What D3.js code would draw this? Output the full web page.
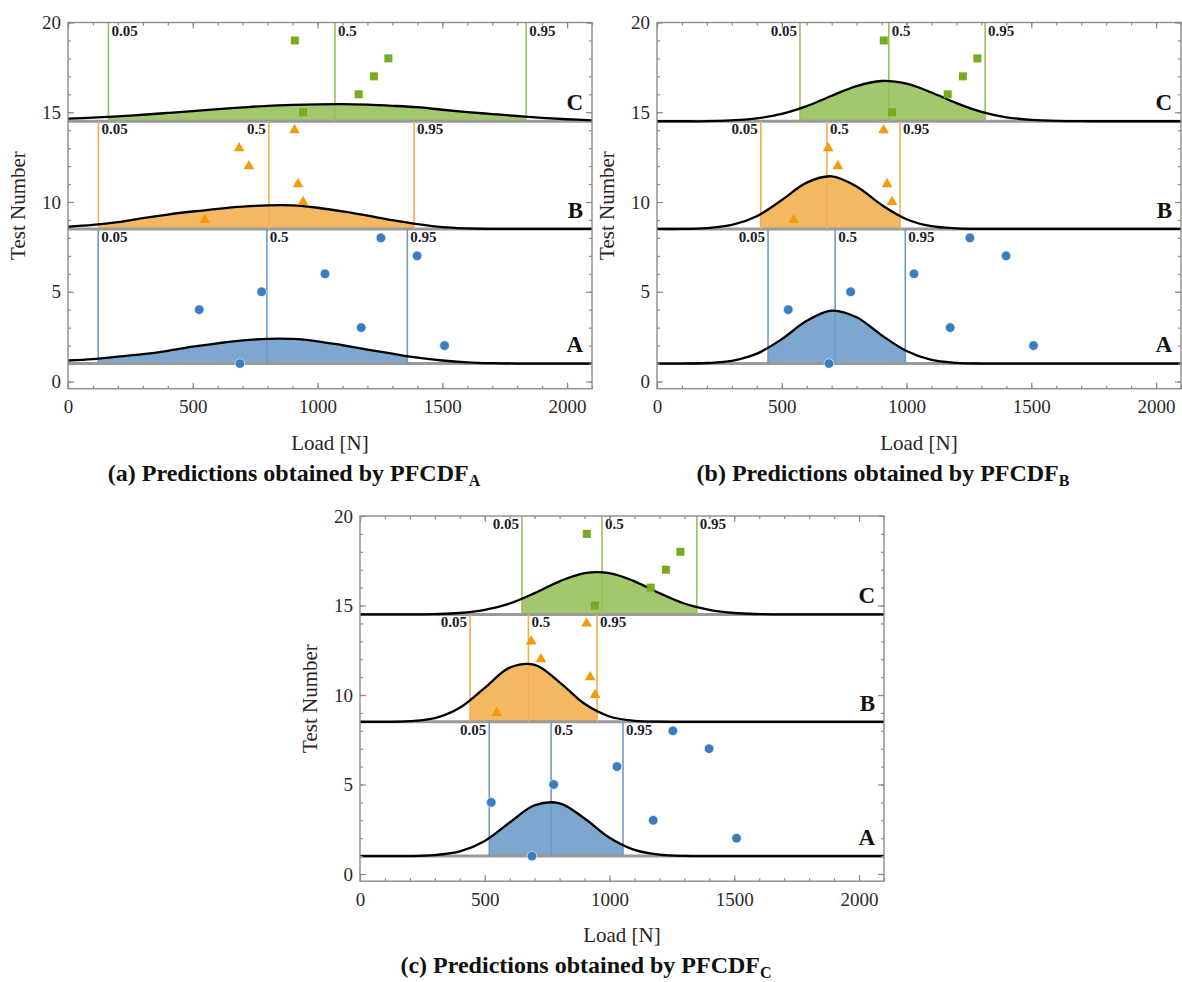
<!DOCTYPE html>
<html>
<head>
<meta charset="utf-8">
<script src="https://cdn.jsdelivr.net/npm/d3@7"></script>
<style>
  body { margin: 0; background: #fff; }
  svg { display: block; font-family: "Liberation Serif", "Times New Roman", serif; }
</style>
</head>
<body>
<div id="chart"></div>
<script>
// load grid (N) on which the density curves were read
const loadGrid = [0, 100, 200, 300, 400, 500, 600, 700, 800, 900, 1000,
  1100, 1200, 1300, 1400, 1500, 1600, 1700, 1800, 1900, 2000, 2100];

// bands: A, B, C (baseline and top on the Test Number axis)
const bandNames = ["A", "B", "C"];
const bandBase = [1, 8.5, 14.5];
const bandTop = [8.5, 14.5, 20];
const quantNames = ["0.05", "0.5", "0.95"];

// density height above the band baseline, read at each loadGrid value
const curvesPFCDFA = [
  [.17, .25, .38, .52, .71, .94, 1.13, 1.29, 1.38, 1.37, 1.24, 1.02, .78, .55, .33, .17, .07, .02, 0, 0, 0, 0],
  [.12, .22, .38, .60, .80, .97, 1.12, 1.24, 1.31, 1.31, 1.18, .98, .74, .49, .27, .10, .03, 0, 0, 0, 0, 0],
  [.15, .20, .27, .36, .46, .56, .67, .77, .86, .91, .94, .95, .92, .86, .78, .64, .51, .40, .29, .19, .11, .05]
];
const curvesPFCDFB = [
  [0, 0, .03, .15, .55, 1.36, 2.38, 2.95, 2.58, 1.58, .70, .20, .04, 0, 0, 0, 0, 0, 0, 0, 0, 0],
  [0, 0, .05, .22, .71, 1.61, 2.58, 2.93, 2.36, 1.34, .54, .15, .03, 0, 0, 0, 0, 0, 0, 0, 0, 0],
  [0, 0, 0, .05, .16, .41, .84, 1.42, 1.96, 2.24, 2.09, 1.60, 1.01, .52, .22, .08, .02, 0, 0, 0, 0, 0]
];
const curvesPFCDFC = [
  [0, 0, 0, .06, .26, .85, 1.88, 2.84, 2.95, 2.10, 1.03, .35, .08, .01, 0, 0, 0, 0, 0, 0, 0, 0],
  [0, 0, .04, .21, .79, 1.90, 3.03, 3.18, 2.21, 1.01, .30, .06, .01, 0, 0, 0, 0, 0, 0, 0, 0, 0],
  [0, 0, 0, .02, .08, .26, .61, 1.19, 1.85, 2.31, 2.31, 1.85, 1.19, .61, .26, .08, .02, 0, 0, 0, 0, 0]
];

// 0.05 / 0.5 / 0.95 quantiles (N) per band
const quantPFCDFA = [[121, 797, 1360], [122, 805, 1387], [162, 1070, 1836]];
const quantPFCDFB = [[445, 714, 995], [416, 681, 974], [573, 929, 1315]];
const quantPFCDFC = [[518, 766, 1054], [441, 675, 950], [649, 970, 1350]];

// which side of the quantile line its label sits on
const labelSidePFCDFA = [["start", "start", "start"], ["start", "end", "start"], ["start", "start", "start"]];
const labelSidePFCDFB = [["end", "start", "start"], ["end", "start", "start"], ["end", "start", "start"]];
const labelSidePFCDFC = [["end", "start", "start"], ["end", "start", "start"], ["end", "start", "start"]];

// experimental tests
const testNumber = [1, 2, 3, 4, 5, 6, 7, 8, 9, 10, 11, 12, 13, 14, 15, 16, 17, 18, 19];
const testLoad = [689, 1509, 1175, 526, 776, 1030, 1399, 1254,
  548, 942, 922, 725, 686, 908,
  942, 1165, 1226, 1284, 909];
const testBand = [0, 0, 0, 0, 0, 0, 0, 0, 1, 1, 1, 1, 1, 1, 2, 2, 2, 2, 2];

const xTicks = [0, 500, 1000, 1500, 2000];
const yTicks = [0, 5, 10, 15, 20];

const panelLetters = ["a", "b", "c"];
const panelSubs = ["A", "B", "C"];

// colours per band
const fillColor = ["#7ea7cf", "#f4b862", "#a3c76c"];
const lineColor = ["#7099c8", "#f6ad4e", "#96c25a"];
const pointColor = ["#3b7dc1", "#f59b0b", "#78aa22"];

const W = 1182, H = 982;
const svg = d3.select("#chart").append("svg")
  .attr("width", W).attr("height", H);

const panels = [
  { x0: 68, x1: 592, yTop: 22.5, yZero: 381.5, curves: curvesPFCDFA, quant: quantPFCDFA, side: labelSidePFCDFA },
  { x0: 657, x1: 1181, yTop: 22.5, yZero: 381.5, curves: curvesPFCDFB, quant: quantPFCDFB, side: labelSidePFCDFB },
  { x0: 360, x1: 884, yTop: 516, yZero: 874, curves: curvesPFCDFC, quant: quantPFCDFC, side: labelSidePFCDFC }
];

panels.forEach(function (p, pi) {
  let x = d3.scaleLinear().domain([0, 2100]).range([p.x0, p.x1]);
  let y = d3.scaleLinear().domain([0, 20]).range([p.yZero, p.yTop]);
  let yBottom = y(-0.4);
  let g = svg.append("g");
  let clipId = "clip" + pi;
  let curveType = d3.curveCatmullRom.alpha(0.5);

  // filled area between the 0.05 and 0.95 quantiles
  p.curves.forEach(function (c, bi) {
    let id = clipId + "_" + bi;
    g.append("clipPath").attr("id", id)
      .append("rect")
      .attr("x", x(p.quant[bi][0])).attr("width", x(p.quant[bi][2]) - x(p.quant[bi][0]))
      .attr("y", y(bandTop[bi]) - 5).attr("height", y(bandBase[bi]) - y(bandTop[bi]) + 5);
    g.append("path")
      .datum(c)
      .attr("clip-path", `url(#${id})`)
      .attr("fill", fillColor[bi])
      .attr("d", d3.area()
        .curve(curveType)
        .x(function (d, i) { return x(loadGrid[i]); })
        .y0(y(bandBase[bi]))
        .y1(function (d) { return y(bandBase[bi] + d); }));
  });

  // gray baselines
  bandBase.forEach(function (b) {
    g.append("line")
      .attr("x1", p.x0).attr("x2", p.x1)
      .attr("y1", y(b)).attr("y2", y(b))
      .attr("stroke", "#9a9a9a").attr("stroke-width", 3);
  });

  // quantile lines
  p.quant.forEach(function (q, bi) {
    q.forEach(function (v) {
      g.append("line")
        .attr("x1", x(v)).attr("x2", x(v))
        .attr("y1", y(bandBase[bi])).attr("y2", y(bandTop[bi]))
        .attr("stroke", lineColor[bi]).attr("stroke-width", 1.6);
    });
  });

  // density curves
  p.curves.forEach(function (c, bi) {
    g.append("path")
      .datum(c)
      .attr("fill", "none")
      .attr("stroke", "#000")
      .attr("stroke-width", 2.3)
      .attr("d", d3.line()
        .curve(curveType)
        .x(function (d, i) { return x(loadGrid[i]); })
        .y(function (d) { return y(bandBase[bi] + Math.max(d, 0)); }));
  });

  // quantile labels
  p.quant.forEach(function (q, bi) {
    q.forEach(function (v, qi) {
      let side = p.side[bi][qi];
      g.append("text")
        .attr("x", x(v) + (side === "end" ? -3 : 3))
        .attr("y", y(bandTop[bi]) + 13)
        .attr("text-anchor", side)
        .attr("font-size", 15)
        .attr("font-weight", "bold")
        .attr("fill", "#1c1c2a")
        .text(quantNames[qi]);
    });
  });

  // band letters
  bandNames.forEach(function (n, bi) {
    g.append("text")
      .attr("x", p.x1 - 9)
      .attr("y", y(bandBase[bi] + 0.62))
      .attr("text-anchor", "end")
      .attr("font-size", 23)
      .attr("font-weight", "bold")
      .attr("fill", "#111")
      .text(n);
  });

  // test points
  testNumber.forEach(function (t, i) {
    let b = testBand[i];
    let cx = x(testLoad[i]), cy = y(t);
    if (b === 0) {
      g.append("circle").attr("cx", cx).attr("cy", cy).attr("r", 4.8)
        .attr("fill", pointColor[b]).attr("stroke", "#fff").attr("stroke-width", 0.6);
    } else if (b === 1) {
      g.append("path")
        .attr("transform", `translate(${cx},${cy})`)
        .attr("d", d3.symbol(d3.symbolTriangle, 50)())
        .attr("fill", pointColor[b]);
    } else {
      g.append("rect").attr("x", cx - 4).attr("y", cy - 4)
        .attr("width", 8).attr("height", 8)
        .attr("fill", pointColor[b]);
    }
  });

  // frame
  g.append("rect")
    .attr("x", p.x0).attr("y", p.yTop)
    .attr("width", p.x1 - p.x0).attr("height", yBottom - p.yTop)
    .attr("fill", "none").attr("stroke", "#8c8c8c").attr("stroke-width", 1.4);

  // ticks on all four sides (pointing inward)
  let minorX = d3.range(0, 2101, 100);
  let minorY = d3.range(0, 21, 1);
  function styleAxis(sel) {
    sel.select(".domain").remove();
    sel.selectAll(".tick line").attr("stroke", "#8c8c8c").attr("stroke-width", 1.2);
  }
  g.append("g").attr("transform", `translate(0,${yBottom})`)
    .call(d3.axisBottom(x).tickValues(minorX).tickSize(-3).tickFormat(""))
    .call(styleAxis);
  g.append("g").attr("transform", `translate(0,${p.yTop})`)
    .call(d3.axisTop(x).tickValues(minorX).tickSize(-3).tickFormat(""))
    .call(styleAxis);
  g.append("g").attr("transform", `translate(0,${p.yTop})`)
    .call(d3.axisTop(x).tickValues(xTicks).tickSize(-6).tickFormat(""))
    .call(styleAxis);
  g.append("g").attr("transform", `translate(${p.x0},0)`)
    .call(d3.axisLeft(y).tickValues(minorY).tickSize(-3).tickFormat(""))
    .call(styleAxis);
  g.append("g").attr("transform", `translate(${p.x1},0)`)
    .call(d3.axisRight(y).tickValues(minorY).tickSize(-3).tickFormat(""))
    .call(styleAxis);
  g.append("g").attr("transform", `translate(${p.x1},0)`)
    .call(d3.axisRight(y).tickValues(yTicks).tickSize(-6).tickFormat(""))
    .call(styleAxis);

  let xAxis = g.append("g").attr("transform", `translate(0,${yBottom})`)
    .call(d3.axisBottom(x).tickValues(xTicks).tickSize(-6).tickPadding(11).tickFormat(d3.format("d")))
    .call(styleAxis);
  xAxis.selectAll("text")
    .attr("font-size", 19).attr("font-family", "Liberation Serif, serif").attr("fill", "#2a2a2a");
  let yAxis = g.append("g").attr("transform", `translate(${p.x0},0)`)
    .call(d3.axisLeft(y).tickValues(yTicks).tickSize(-6).tickPadding(7).tickFormat(d3.format("d")))
    .call(styleAxis);
  yAxis.selectAll("text")
    .attr("font-size", 19).attr("font-family", "Liberation Serif, serif").attr("fill", "#2a2a2a");

  // axis titles
  let cxMid = (p.x0 + p.x1) / 2;
  g.append("text")
    .attr("x", cxMid).attr("y", yBottom + 61)
    .attr("text-anchor", "middle").attr("font-size", 21).attr("fill", "#2e2424")
    .text("Load [N]");
  g.append("text")
    .attr("transform", `translate(${p.x0 - 43},${(p.yTop + yBottom) / 2}) rotate(-90)`)
    .attr("text-anchor", "middle").attr("font-size", 21).attr("fill", "#2e2424")
    .text("Test Number");

  // caption
  let cap = g.append("text")
    .attr("x", cxMid - 36).attr("y", yBottom + 92)
    .attr("text-anchor", "middle").attr("font-size", 24).attr("font-weight", "bold")
    .attr("fill", "#111");
  cap.append("tspan").text(`(${panelLetters[pi]}) Predictions obtained by PFCDF`);
  cap.append("tspan").attr("font-size", 16).attr("dy", 5).text(panelSubs[pi]);
});
</script>
</body>
</html>
